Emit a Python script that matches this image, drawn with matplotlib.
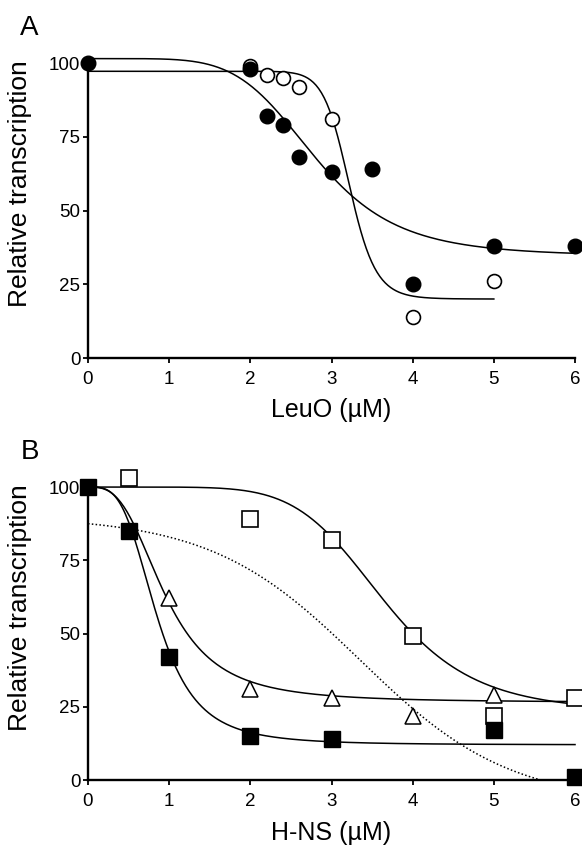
import numpy as np
import matplotlib.pyplot as plt

plt.rcParams['font.family'] = ['Liberation Sans', 'DejaVu Sans']

# Panel A: LeuO titration
leuo_filled_x = [0, 2, 2.2, 2.4, 2.6, 3, 3.5, 4, 5, 6]
leuo_filled_y = [100, 98, 82, 79, 68, 63, 64, 25, 38, 38]
leuo_open_x = [2, 2.2, 2.4, 2.6, 3, 4, 5]
leuo_open_y = [99, 96, 95, 92, 81, 14, 26]
# fitted curves (top, bottom, x50, hill, x_end)
leuo_filled_fit = [101.5, 34.5, 2.8, 5.5, 6]
leuo_open_fit = [97.2, 20, 3.22, 20, 5]

# Panel B: H-NS titration
hns_osq_x = [0.5, 2, 3, 4, 5, 6]
hns_osq_y = [103, 89, 82, 49, 22, 28]
hns_tri_x = [1, 2, 3, 4, 5]
hns_tri_y = [62, 31, 28, 22, 29]
hns_fsq_x = [0, 0.5, 1, 2, 3, 5, 6]
hns_fsq_y = [100, 85, 42, 15, 14, 17, 1]
hns_osq_fit = [100, 23, 3.64, 6.5, 6]
hns_tri_fit = [100, 26.5, 0.95, 3.0, 6]
hns_fsq_fit = [100, 12, 0.85, 3.5, 6]
# dotted reference curve (top, bottom, x0, slope)
hns_dot_fit = [90, -8, 3.35, 0.92]


def hill(p):
    top, bottom, x50, n, xend = p
    x = np.linspace(0, xend, 300)
    return x, bottom + (top - bottom) / (1 + (x / x50) ** n)


def style_axes(ax, xlabel, xlab_y):
    ax.set_xlim(0, 6)
    ax.set_ylim(0, 100)
    ax.spines['top'].set_visible(False)
    ax.spines['right'].set_visible(False)
    ax.spines['left'].set_linewidth(1.7)
    ax.spines['bottom'].set_linewidth(1.7)
    ax.set_xticks(range(7))
    ax.set_yticks([0, 25, 50, 75, 100])
    ax.tick_params(direction='out', length=3.5, width=1.3, labelsize=13.5)
    ax.tick_params(axis='x', pad=6)
    ax.tick_params(axis='y', pad=2)
    ax.set_xlabel(xlabel, fontsize=18)
    ax.set_ylabel('Relative transcription', fontsize=19)
    ax.xaxis.set_label_coords(0.5, xlab_y)
    ax.yaxis.set_label_coords(-0.115, 0.59)


fig = plt.figure(figsize=(5.82, 8.46), dpi=100)

ax1 = fig.add_axes([0.1512, 0.5768, 0.8368, 0.3487])
x, y = hill(leuo_filled_fit)
ax1.plot(x, y, color='black', lw=1.1, clip_on=False)
x, y = hill(leuo_open_fit)
ax1.plot(x, y, color='black', lw=1.1, clip_on=False)
ax1.plot(leuo_open_x, leuo_open_y, 'o', ms=10, mfc='white', mec='black',
         mew=1.2, clip_on=False, zorder=3)
ax1.plot(leuo_filled_x, leuo_filled_y, 'o', ms=10.5, color='black',
         clip_on=False, zorder=4)
style_axes(ax1, 'LeuO (µM)', -0.135)

ax2 = fig.add_axes([0.1512, 0.0780, 0.8368, 0.3463])
for p in (hns_osq_fit, hns_tri_fit, hns_fsq_fit):
    x, y = hill(p)
    ax2.plot(x, y, color='black', lw=1.1, clip_on=False)
top, bottom, x0, s = hns_dot_fit
xd = np.linspace(0, 6, 300)
yd = bottom + (top - bottom) / (1 + np.exp((xd - x0) / s))
ax2.plot(xd, yd, color='black', lw=1.1, ls=(0, (1, 1.5)))
ax2.plot(hns_osq_x, hns_osq_y, 's', ms=11.5, mfc='white', mec='black',
         mew=1.2, clip_on=False, zorder=3)
ax2.plot(hns_tri_x, hns_tri_y, '^', ms=11, mfc='white', mec='black',
         mew=1.1, clip_on=False, zorder=3)
ax2.plot(hns_fsq_x, hns_fsq_y, 's', ms=11.5, color='black',
         clip_on=False, zorder=4)
style_axes(ax2, 'H-NS (µM)', -0.14)

fig.text(29 / 582, 1 - 28 / 846, 'A', fontsize=20, ha='center', va='center')
fig.text(30 / 582, 1 - 452 / 846, 'B', fontsize=20, ha='center', va='center')

fig.savefig('out.png', dpi=100)
